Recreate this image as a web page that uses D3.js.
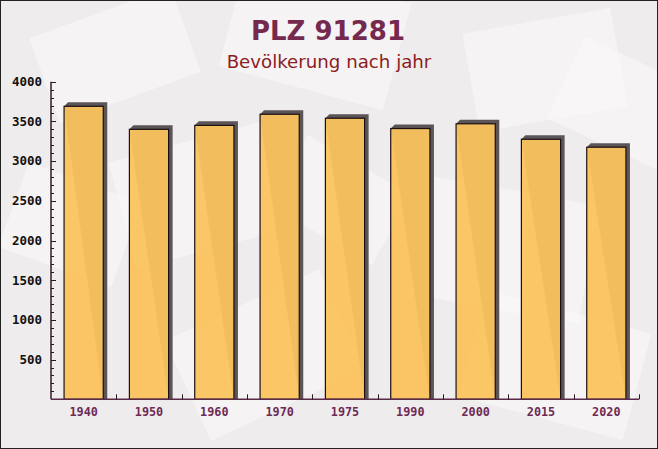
<!DOCTYPE html>
<html><head><meta charset="utf-8">
<script src="https://cdn.jsdelivr.net/npm/d3@7/dist/d3.min.js"></script>
<style>html,body{margin:0;padding:0;background:#fff}svg{display:block}</style>
</head><body>
<script>
const years = ["1940","1950","1960","1970","1975","1990","2000","2015","2020"];
const population = [3690, 3400, 3450, 3590, 3540, 3410, 3470, 3275, 3175];
const yTicks = [500,1000,1500,2000,2500,3000,3500,4000];
const titleText = "PLZ 91281";
const subtitleText = "Bevölkerung nach jahr";

const W = 658, H = 449;
const svg = d3.select("body").append("svg").attr("width", W).attr("height", H);

// background
svg.append("rect").attr("width", W).attr("height", H).attr("fill", "#efeced");
const deco = [[40,10,150,90,-20],[230,-20,170,110,15],[470,20,150,100,-10],[560,60,130,90,25],[120,140,160,110,-15],[420,190,170,120,10],[10,180,120,90,20],[180,300,170,110,-25],[470,310,170,110,15],[280,160,120,80,30]];
svg.append("g").selectAll("rect").data(deco).join("rect")
  .attr("x", d=>d[0]).attr("y", d=>d[1]).attr("width", d=>d[2]).attr("height", d=>d[3])
  .attr("transform", d=>`rotate(${d[4]},${d[0]+d[2]/2},${d[1]+d[3]/2})`)
  .attr("fill", "#faf8f8").attr("opacity", 0.6);

const m = {left: 51, right: 19, top: 82, bottom: 50};
const x = d3.scaleBand().domain(years).range([m.left, W - m.right]).paddingInner(0.4).paddingOuter(0.2);
const y = d3.scaleLinear().domain([0, 4000]).range([399.3, 81.7]);

// titles
svg.append("text").attr("x", 328).attr("y", 40).attr("text-anchor", "middle")
  .attr("font-family", "DejaVu Sans").attr("font-weight", "bold").attr("font-size", 26)
  .attr("fill", "#76294f").text(titleText);
svg.append("text").attr("x", 329).attr("y", 68).attr("text-anchor", "middle")
  .attr("font-family", "DejaVu Sans").attr("font-size", 18.2)
  .attr("fill", "#8c1c22").text(subtitleText);

// bars with 3D shadow
const dx = 4, dy = 4;
const g = svg.append("g");
const data = years.map((yr, i) => ({yr, v: population[i]}));
g.selectAll("path.shadow").data(data).join("path").attr("class", "shadow")
  .attr("d", d => {
    const x0 = x(d.yr), x1 = x0 + x.bandwidth(), yt = y(d.v), yb = y(0);
    return `M${x0},${yt} L${x0+dx},${yt-dy} L${x1+dx},${yt-dy} L${x1+dx},${yb} L${x1},${yb} Z`;
  })
  .attr("fill", "#5b5557");
g.selectAll("rect.bar").data(data).join("rect").attr("class", "bar")
  .attr("x", d => x(d.yr)).attr("y", d => y(d.v))
  .attr("width", x.bandwidth()).attr("height", d => y(0) - y(d.v))
  .attr("fill", "#fbc35e").attr("fill-opacity", 0.95)
  .attr("stroke", "#1a1012").attr("stroke-width", 1.2);

// y axis
const ya = svg.append("g");
ya.append("line").attr("x1", m.left).attr("x2", m.left).attr("y1", y(4000)).attr("y2", y(0)).attr("stroke", "#3a1a2c").attr("stroke-width", 1.5);
const minor = d3.range(100, 4001, 100);
ya.selectAll("line.t").data(minor).join("line").attr("class", "t")
  .attr("x1", m.left).attr("x2", d => m.left + (d % 500 === 0 ? 5 : 3))
  .attr("y1", d => Math.round(y(d)) + 0.5).attr("y2", d => Math.round(y(d)) + 0.5)
  .attr("stroke", "#2a1a22").attr("stroke-width", 1);
ya.selectAll("text").data(yTicks).join("text")
  .attr("x", 42).attr("y", d => y(d)).attr("dy", "0.35em").attr("text-anchor", "end")
  .attr("font-family", "DejaVu Sans Mono").attr("font-weight", "bold").attr("font-size", 12.5)
  .attr("fill", "#111").text(d => d);

// x axis
const xa = svg.append("g");
xa.append("line").attr("x1", m.left).attr("x2", W - m.right).attr("y1", y(0)).attr("y2", y(0)).attr("stroke", "#5a2a48").attr("stroke-width", 1.5);
const bounds = years.map(yr => x(yr) + x.bandwidth() + x.step() * x.paddingInner() / 2);
xa.selectAll("line.t").data(bounds).join("line").attr("class", "t")
  .attr("x1", d => Math.round(d) + 0.5).attr("x2", d => Math.round(d) + 0.5)
  .attr("y1", y(0)).attr("y2", y(0) - 5).attr("stroke", "#2a1a22");
xa.selectAll("text").data(years).join("text")
  .attr("x", d => x(d) + x.bandwidth() / 2).attr("y", 416).attr("text-anchor", "middle")
  .attr("font-family", "DejaVu Sans Mono").attr("font-weight", "bold").attr("font-size", 11.8)
  .attr("fill", "#6e2a55").text(d => d);

// frame
svg.append("rect").attr("x", 0.5).attr("y", 0.5).attr("width", W - 1).attr("height", H - 1)
  .attr("fill", "none").attr("stroke", "#222").attr("stroke-width", 1);
</script>
</body></html>
